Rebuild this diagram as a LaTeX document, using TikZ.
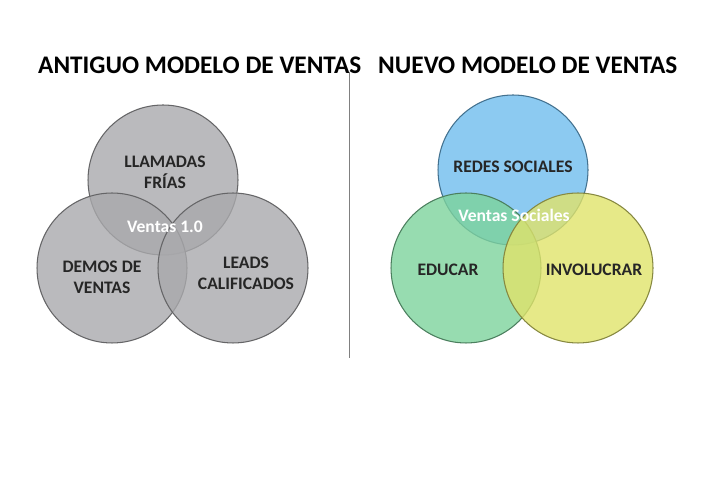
\documentclass[tikz,border=0pt]{standalone}
\usepackage{fontspec}
\setmainfont{Carlito}
\usepackage{xcolor}
\usetikzlibrary{positioning}
\definecolor{grisvenn}{HTML}{A9A9AC}
\definecolor{azulvenn}{HTML}{6FBDEE}
\definecolor{verdevenn}{HTML}{7DD39C}
\definecolor{amarvenn}{HTML}{E0E36A}

\begin{document}
\begin{tikzpicture}[x=0.02cm,y=-0.02cm,
      venn/.style={circle,minimum size=3cm,draw=#1!60!black,fill=#1,fill opacity=0.8,semithick},
      lbl/.style={font=\bfseries,align=center,text=black!85},
      centro/.style={font=\bfseries,text=white},
      titulo/.style={font=\bfseries\Large,anchor=west}]
      \useasboundingbox (0,0) rectangle (703,492);

      % modelo antiguo
      \node[titulo] (tit_antiguo) at (32,65) {ANTIGUO MODELO DE VENTAS};
      \node[venn=grisvenn] (llamadas) at (163,180) {};
      \node[venn=grisvenn] (demos) at (112,268) {};
      \node[venn=grisvenn] (leads) at (233,268) {};
      \node[lbl] at (165,172) {LLAMADAS\\FRÍAS};
      \node[lbl] at (102,277) {DEMOS DE\\VENTAS};
      \node[lbl] at (246,273) {LEADS\\CALIFICADOS};
      \node[centro] (ventas_uno) at (165,227) {Ventas 1.0};

      % separador
      \coordinate (sep_top) at (349,72);
      \coordinate (sep_bot) at (349,358);
      \draw[gray] (sep_top) -- (sep_bot);

      % modelo nuevo
      \node[titulo] (tit_nuevo) at (372,65) {NUEVO MODELO DE VENTAS};
      \node[venn=azulvenn] (redes) at (513,170) {};
      \node[venn=verdevenn] (educar) at (466,268) {};
      \node[venn=amarvenn] (involucrar) at (578,268) {};
      \node[lbl] at (513,167) {REDES SOCIALES};
      \node[lbl] at (448,270) {EDUCAR};
      \node[lbl] at (594,270) {INVOLUCRAR};
      \node[centro] (ventas_soc) at (514,215) {Ventas Sociales};
    \end{tikzpicture}
\end{document}
